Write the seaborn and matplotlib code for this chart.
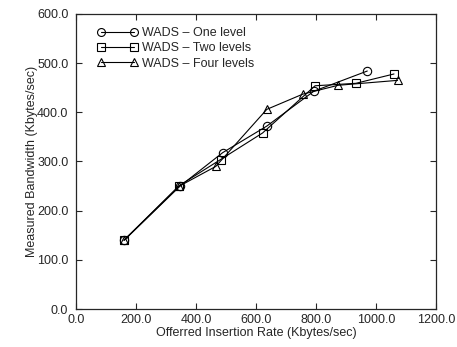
import matplotlib
matplotlib.use("Agg")
import matplotlib.pyplot as plt
import seaborn as sns
import pandas as pd

one_x = [161, 347, 489, 636, 793, 971]
one_y = [140, 250, 318, 372, 443, 484]
two_x = [160, 344, 482, 622, 797, 933, 1060]
two_y = [140, 251, 304, 358, 454, 459, 478]
four_x = [160, 345, 466, 636, 756, 874, 1072]
four_y = [140, 250, 290, 406, 437, 455, 465]
labels = ["WADS \u2013 One level", "WADS \u2013 Two levels", "WADS \u2013 Four levels"]
markers = ["o", "s", "^"]

sns.set_style("ticks")
plt.rcParams['font.family'] = ['Liberation Sans', 'DejaVu Sans']

fig = plt.figure(figsize=(4.57, 3.47), dpi=100)
ax = fig.add_axes([0.1663, 0.1095, 0.7877, 0.8502])

for xs, ys, lab, m in zip([one_x, two_x, four_x], [one_y, two_y, four_y], labels, markers):
    df = pd.DataFrame({"x": xs, "y": ys})
    sns.lineplot(data=df, x="x", y="y", ax=ax, color="black", marker=m,
                 markersize=6, markerfacecolor="none", markeredgecolor="black",
                 markeredgewidth=0.8, linewidth=0.8, sort=False, label=lab)

ax.set_xlim(0, 1200)
ax.set_ylim(0, 600)
ax.set_xticks(range(0, 1201, 200))
ax.set_yticks(range(0, 601, 100))
ax.set_xticklabels([f"{v:.1f}" for v in range(0, 1201, 200)])
ax.set_yticklabels([f"{v:.1f}" for v in range(0, 601, 100)])
ax.tick_params(direction="in", top=True, right=True, labelsize=9, length=4, width=0.8)
ax.tick_params(axis="y", pad=5.5)
ax.tick_params(axis="x", pad=3.5)
for s in ax.spines.values():
    s.set_linewidth(0.9)
ax.set_xlabel("Offerred Insertion Rate (Kbytes/sec)", fontsize=9, labelpad=1)
ax.set_ylabel("Measured Bandwidth (Kbytes/sec)", fontsize=9, labelpad=-1)

leg = ax.legend(loc="upper left", frameon=False, fontsize=9, numpoints=2,
                handlelength=3.3, handletextpad=0.3, labelspacing=0.25,
                borderaxespad=0, borderpad=0, markerscale=0.95,
                bbox_to_anchor=(0.058, 0.955))

fig.savefig("out.png", dpi=100)
